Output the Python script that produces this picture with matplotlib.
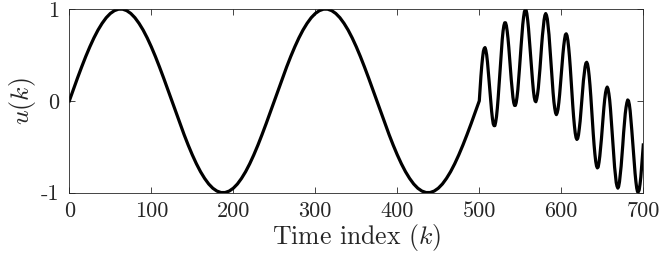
import numpy as np
import matplotlib
matplotlib.use("Agg")
import matplotlib.pyplot as plt

# LaTeX-like look
plt.rcParams['font.family'] = 'serif'
plt.rcParams['font.serif'] = ['cmr10']
plt.rcParams['mathtext.fontset'] = 'cm'
plt.rcParams['axes.unicode_minus'] = False
plt.rcParams['axes.formatter.use_mathtext'] = True

# slow part, k = 0..500 every 5 samples
u_first = [0.0, 0.125, 0.249, 0.368, 0.482, 0.588, 0.685, 0.771, 0.844, 0.905, 0.951, 0.982, 0.998,
           0.998, 0.982, 0.951, 0.905, 0.844, 0.771, 0.685, 0.588, 0.482, 0.368, 0.249, 0.125,
           0.0, -0.125, -0.249, -0.368, -0.482, -0.588, -0.685, -0.771, -0.844, -0.905, -0.951, -0.982, -0.998,
           -0.998, -0.982, -0.951, -0.905, -0.844, -0.771, -0.685, -0.588, -0.482, -0.368, -0.249, -0.125,
           0.0, 0.125, 0.249, 0.368, 0.482, 0.588, 0.685, 0.771, 0.844, 0.905, 0.951, 0.982, 0.998,
           0.998, 0.982, 0.951, 0.905, 0.844, 0.771, 0.685, 0.588, 0.482, 0.368, 0.249, 0.125,
           0.0, -0.125, -0.249, -0.368, -0.482, -0.588, -0.685, -0.771, -0.844, -0.905, -0.951, -0.982, -0.998,
           -0.998, -0.982, -0.951, -0.905, -0.844, -0.771, -0.685, -0.588, -0.482, -0.368, -0.249, -0.125,
           0.0]
k_first = np.arange(0, 501, 5)

# fast part, k = 501..700
u_second = [0.14, 0.27, 0.38, 0.47, 0.54, 0.57, 0.58, 0.55, 0.50, 0.42, 0.32, 0.21, 0.10, -0.01, -0.11, -0.19, -0.25, -0.27, -0.27, -0.23, -0.17, -0.08, 0.03, 0.16, 0.29,
            0.43, 0.55, 0.67, 0.76, 0.82, 0.85, 0.85, 0.82, 0.76, 0.68, 0.58, 0.46, 0.35, 0.23, 0.13, 0.04, -0.02, -0.05, -0.05, -0.02, 0.04, 0.12, 0.23, 0.35, 0.48,
            0.60, 0.72, 0.83, 0.91, 0.97, 0.99, 0.99, 0.95, 0.88, 0.79, 0.68, 0.56, 0.44, 0.32, 0.21, 0.11, 0.04, 0.00, -0.01, 0.02, 0.07, 0.14, 0.24, 0.35, 0.48,
            0.60, 0.71, 0.80, 0.88, 0.93, 0.95, 0.93, 0.89, 0.81, 0.72, 0.60, 0.47, 0.34, 0.21, 0.09, -0.01, -0.08, -0.13, -0.15, -0.13, -0.09, -0.02, 0.07, 0.18, 0.29,
            0.41, 0.51, 0.60, 0.67, 0.72, 0.73, 0.71, 0.66, 0.58, 0.48, 0.36, 0.22, 0.09, -0.05, -0.17, -0.27, -0.35, -0.40, -0.42, -0.41, -0.37, -0.30, -0.22, -0.11, 0.00,
            0.11, 0.22, 0.30, 0.37, 0.41, 0.42, 0.40, 0.35, 0.27, 0.17, 0.05, -0.09, -0.22, -0.36, -0.48, -0.58, -0.66, -0.71, -0.73, -0.72, -0.67, -0.60, -0.51, -0.41, -0.29,
            -0.18, -0.07, 0.02, 0.09, 0.13, 0.15, 0.13, 0.08, 0.01, -0.09, -0.21, -0.34, -0.47, -0.60, -0.72, -0.81, -0.89, -0.93, -0.95, -0.93, -0.88, -0.80, -0.71, -0.60, -0.48,
            -0.35, -0.24, -0.14, -0.07, -0.02, 0.01, 0.00, -0.04, -0.11, -0.21, -0.32, -0.44, -0.56, -0.68, -0.79, -0.88, -0.95, -0.99, -0.99, -0.97, -0.91, -0.83, -0.72, -0.60, -0.48]
k_second = np.arange(501, 701)

x_ticks = [0, 100, 200, 300, 400, 500, 600, 700]
y_ticks = [-1, 0, 1]
y_tick_labels = ['-1', '0', '1']

k = np.concatenate([k_first, k_second])
u = np.concatenate([u_first, u_second])

fig = plt.figure(figsize=(6.64, 2.64), dpi=100)
ax = fig.add_axes([0.1044, 0.27, 0.8644, 0.696])
ax.plot(k, u, color='black', linewidth=2.3)
ax.set_xlim(0, 700)
ax.set_ylim(-1, 1)
ax.set_xticks(x_ticks)
ax.set_xticklabels([str(t) for t in x_ticks])
ax.set_yticks(y_ticks)
ax.set_yticklabels(y_tick_labels)
ax.tick_params(direction='in', top=True, right=True, labelsize=16, length=4,
               width=0.6, colors='#262626', labelcolor='#262626')
ax.tick_params(axis='x', pad=6)
ax.tick_params(axis='y', pad=7)
for s in ax.spines.values():
    s.set_linewidth(0.6)
    s.set_color('#262626')
ax.set_xlabel('Time index $(k)$', fontsize=18.5, labelpad=1, color='#262626')
ax.set_ylabel('$u(k)$', fontsize=18.5, labelpad=2, color='#262626')
fig.savefig('out.png', dpi=100)
